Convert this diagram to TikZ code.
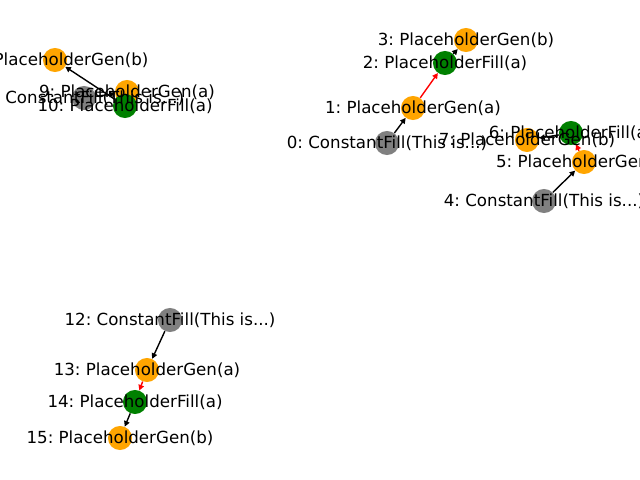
\documentclass[tikz,border=0pt]{standalone}
\usepackage{fontspec}
\setmainfont{DejaVu Sans}
\frenchspacing
\usetikzlibrary{arrows.meta}
\pgfdeclarelayer{bg}
\pgfsetlayers{bg,main}
\definecolor{ngray}{HTML}{808080}
\definecolor{norange}{HTML}{FFA500}
\definecolor{ngreen}{HTML}{008000}
\tikzset{
  vtx/.style={circle,inner sep=0pt,minimum size=17.32pt,draw=none},
  cf/.style={vtx,fill=ngray},
  gen/.style={vtx,fill=norange},
  fil/.style={vtx,fill=ngreen},
  lbl/.style={inner sep=0pt,font=\fontsize{12pt}{14pt}\selectfont\frenchspacing,anchor=center},
  edg/.style={line width=1pt,-{Triangle[length=4pt,width=4pt]}},
  rededg/.style={edg,draw=red,color=red},
}
\begin{document}
\begin{tikzpicture}[x=0.72pt,y=-0.72pt]
\useasboundingbox (0,0) rectangle (640,480);
% nodes
\node[cf]  (n0)  at (387,143) {};
\node[gen] (n1)  at (413,108) {};
\node[fil] (n2)  at (445,63) {};
\node[gen] (n3)  at (466,40) {};
\node[cf]  (n4)  at (544,201) {};
\node[gen] (n5)  at (584,162) {};
\node[fil] (n6)  at (571,133) {};
\node[gen] (n7)  at (527,140) {};
\node[cf]  (n8)  at (84,98) {};
\node[gen] (n9)  at (127,92) {};
\node[fil] (n10) at (125,106) {};
\node[gen] (n11) at (55,60) {};
\node[cf]  (n12) at (170,320) {};
\node[gen] (n13) at (147,370) {};
\node[fil] (n14) at (135,402) {};
\node[gen] (n15) at (120,438) {};
% edges
\begin{pgfonlayer}{bg}
\draw[edg] (n0) -- (n1);
\draw[rededg] (n1) -- (n2);
\draw[edg] (n2) -- (n3);
\draw[edg] (n4) -- (n5);
\draw[rededg] (n5) -- (n6);
\draw[edg] (n6) -- (n7);
\draw[edg] (n8) -- (n9);
\draw[rededg] (n9) -- (n10);
\draw[edg] (n10) -- (n11);
\draw[edg] (n12) -- (n13);
\draw[rededg] (n13) -- (n14);
\draw[edg] (n14) -- (n15);
\end{pgfonlayer}
% labels
\node[lbl] (l0)  at (n0.center)  {0: ConstantFill(This is...)};
\node[lbl] (l1)  at (n1.center)  {1: PlaceholderGen(a)};
\node[lbl] (l2)  at (n2.center)  {2: PlaceholderFill(a)};
\node[lbl] (l3)  at (n3.center)  {3: PlaceholderGen(b)};
\node[lbl] (l4)  at (n4.center)  {4: ConstantFill(This is...)};
\node[lbl] (l5)  at (n5.center)  {5: PlaceholderGen(a)};
\node[lbl] (l6)  at (n6.center)  {6: PlaceholderFill(a)};
\node[lbl] (l7)  at (n7.center)  {7: PlaceholderGen(b)};
\node[lbl] (l8)  at (n8.center)  {8: ConstantFill(This is...)};
\node[lbl] (l9)  at (n9.center)  {9: PlaceholderGen(a)};
\node[lbl] (l10) at (n10.center) {10: PlaceholderFill(a)};
\node[lbl] (l11) at (n11.center) {11: PlaceholderGen(b)};
\node[lbl] (l12) at (n12.center) {12: ConstantFill(This is...)};
\node[lbl] (l13) at (n13.center) {13: PlaceholderGen(a)};
\node[lbl] (l14) at (n14.center) {14: PlaceholderFill(a)};
\node[lbl] (l15) at (n15.center) {15: PlaceholderGen(b)};
\end{tikzpicture}
\end{document}
